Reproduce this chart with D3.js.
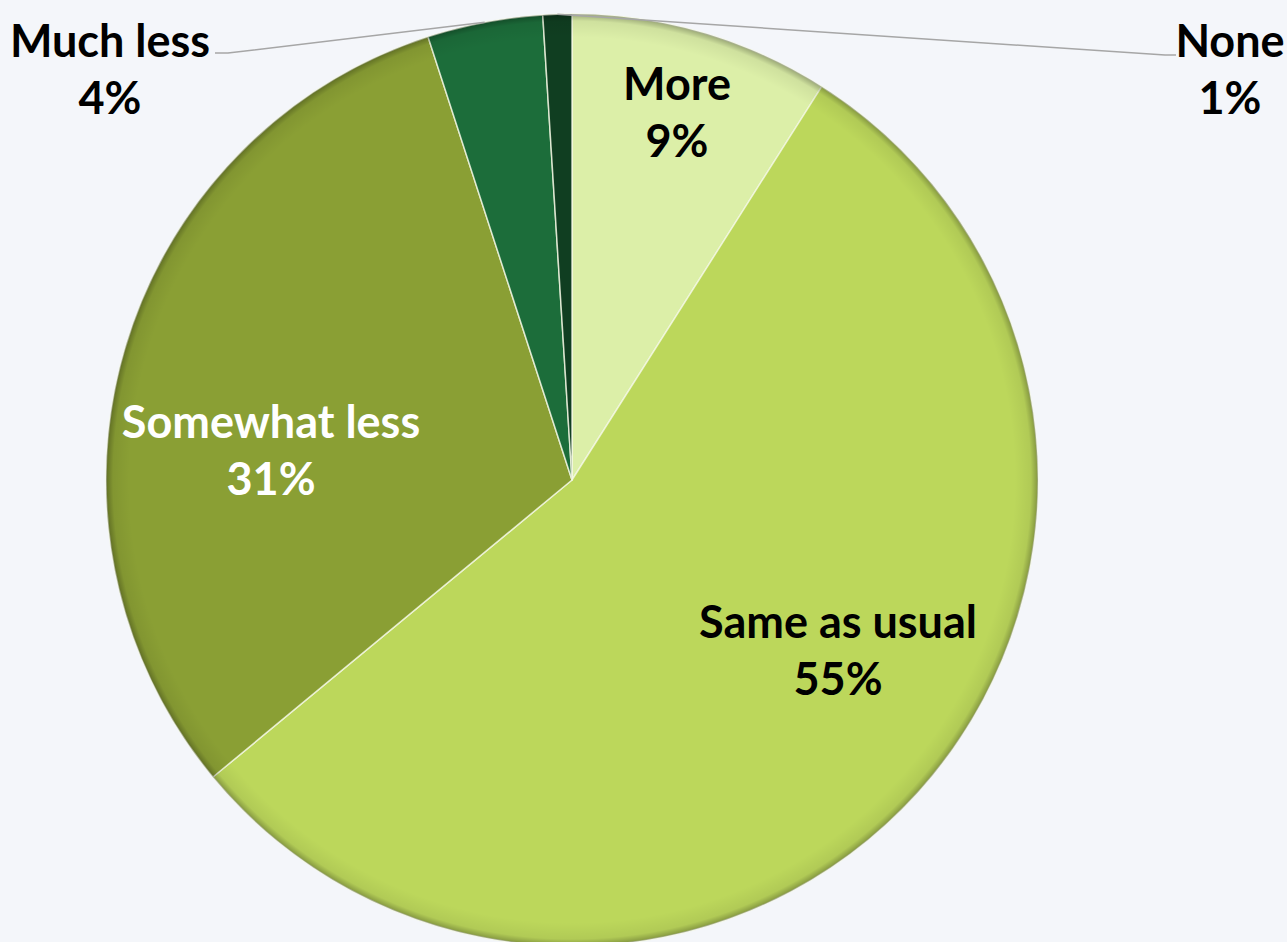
<!DOCTYPE html>
<html lang="en">

<head>
    <meta charset="UTF-8">
    <script src="https://d3js.org/d3.v7.min.js"></script>
    <title>Pie</title>
    <style>
        body { margin: 0; background: #f4f6fa; }
        .label { font-family: Lato, "Open Sans", sans-serif; font-weight: 700; font-size: 45px; }
    </style>
</head>

<body>
    <div id="chart"></div>
    <script>
        // Data
        const categories = ["More", "Same as usual", "Somewhat less", "Much less", "None"];
        const values = [9, 55, 31, 4, 1];
        const colors = ["#dcefa8", "#bcd75b", "#8a9f34", "#1c6d3a", "#103e21"];
        const textColors = ["#000", "#000", "#fff", "#000", "#000"];

        const data = categories.map((c, i) => ({ name: c, value: values[i] }));

        // Dimensions
        const width = 1287;
        const height = 942;
        const cx = 572, cy = 480, radius = 466;

        const svg = d3.select("#chart")
            .append("svg")
            .attr("width", width)
            .attr("height", height);

        svg.append("rect")
            .attr("width", width)
            .attr("height", height)
            .attr("fill", "#f4f6fa");

        const defs = svg.append("defs");
        // darker rim to fake the bevel
        const rim = defs.append("radialGradient")
            .attr("id", "rim")
            .attr("gradientUnits", "userSpaceOnUse")
            .attr("cx", 0).attr("cy", 0).attr("r", radius);
        rim.append("stop").attr("offset", "0.95").attr("stop-color", "#000").attr("stop-opacity", 0);
        rim.append("stop").attr("offset", "0.985").attr("stop-color", "#000").attr("stop-opacity", 0.06);
        rim.append("stop").attr("offset", "1").attr("stop-color", "#000").attr("stop-opacity", 0.3);

        const g = svg.append("g")
            .attr("transform", `translate(${cx},${cy})`);

        const pie = d3.pie()
            .value(d => d.value)
            .sort(null);

        const arc = d3.arc()
            .innerRadius(0)
            .outerRadius(radius);

        const arcs = pie(data);

        g.selectAll(".slice")
            .data(arcs)
            .enter()
            .append("path")
            .attr("class", "slice")
            .attr("d", arc)
            .attr("fill", (d, i) => colors[i])
            .attr("stroke", "#f4f8e4")
            .attr("stroke-opacity", 0.8)
            .attr("stroke-width", 1.5)
            .attr("stroke-linejoin", "round");

        g.append("circle")
            .attr("r", radius)
            .attr("fill", "url(#rim)");

        // Leader lines for the two small outside slices
        const edge = d3.arc().innerRadius(radius).outerRadius(radius);
        const leader = [
            { i: 3, elbow: [228 - cx, 53 - cy], end: [215 - cx, 53 - cy] },
            { i: 4, elbow: [1165 - cx, 55 - cy], end: [1176 - cx, 55 - cy] }
        ];
        g.selectAll(".leader")
            .data(leader)
            .enter()
            .append("polyline")
            .attr("class", "leader")
            .attr("fill", "none")
            .attr("stroke", "#a6a6a6")
            .attr("stroke-width", 1.5)
            .attr("points", d => [edge.centroid(arcs[d.i]), d.elbow, d.end].map(p => p.join(",")).join(" "));

        // Labels (centre of the two-line block)
        const labelPos = [
            [677 - cx, 128 - cy],
            [838 - cx, 666 - cy],
            [271 - cx, 466 - cy],
            [110 - cx, 85 - cy],
            [1230 - cx, 85 - cy]
        ];

        const labels = g.selectAll(".label")
            .data(arcs)
            .enter()
            .append("text")
            .attr("class", "label")
            .attr("text-anchor", "middle")
            .attr("fill", (d, i) => textColors[i])
            .attr("transform", (d, i) => `translate(${labelPos[i][0]},${labelPos[i][1]})`);

        labels.append("tspan")
            .attr("x", 0)
            .attr("y", -28)
            .text(d => d.data.name);

        labels.append("tspan")
            .attr("x", 0)
            .attr("y", 29)
            .text(d => d.data.value + "%");
    </script>
</body>

</html>
